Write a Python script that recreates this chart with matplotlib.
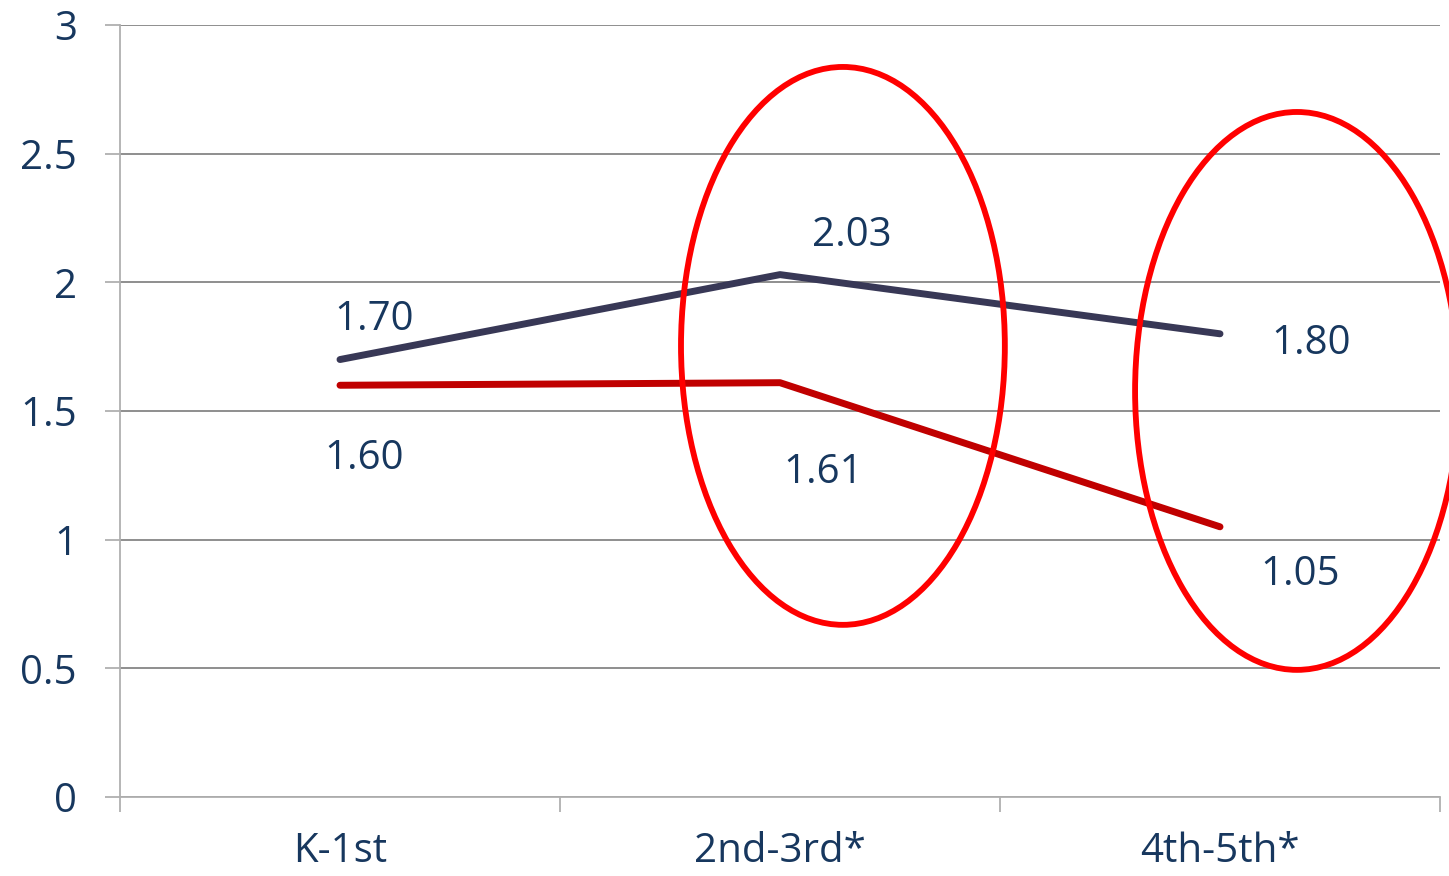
import matplotlib
matplotlib.use("Agg")
import matplotlib.pyplot as plt
from matplotlib.patches import Ellipse
from matplotlib.ticker import FixedLocator

plt.rcParams['font.family'] = ['Open Sans', 'DejaVu Sans']

categories = ["K-1st", "2nd-3rd*", "4th-5th*"]
series_top = [1.70, 2.03, 1.80]
series_bottom = [1.60, 1.61, 1.05]
y_ticks = [0, 0.5, 1, 1.5, 2, 2.5, 3]
y_tick_labels = ["0", "0.5", "1", "1.5", "2", "2.5", "3"]

text_color = "#17375E"
navy = "#383856"
dark_red = "#C00000"
ring_red = "#FF0000"
fs = 29

fig = plt.figure(figsize=(14.49, 8.76), dpi=100)
ax = fig.add_axes([120 / 1449, 79 / 876, 1320 / 1449, 772 / 876])

x = list(range(len(categories)))
ax.plot(x, series_top, color=navy, lw=5, solid_capstyle="round", solid_joinstyle="round", zorder=3)
ax.plot(x, series_bottom, color=dark_red, lw=5, solid_capstyle="round", solid_joinstyle="round", zorder=3)

ax.set_xlim(-0.5, len(categories) - 0.5)
ax.set_ylim(0, 3)

# value labels
top_offsets = [(34, 40), (72, 39), (91, -10)]
bottom_offsets = [(24, -73), (43, -90), (80, -48)]
for i, (v, off) in enumerate(zip(series_top, top_offsets)):
    ax.annotate(f"{v:.2f}", (i, v), xytext=off, textcoords="offset pixels",
                ha="center", va="center", fontsize=fs, color=text_color, zorder=4)
for i, (v, off) in enumerate(zip(series_bottom, bottom_offsets)):
    ax.annotate(f"{v:.2f}", (i, v), xytext=off, textcoords="offset pixels",
                ha="center", va="center", fontsize=fs, color=text_color, zorder=4)

# highlight rings around the two later grade bands
for cx, cy in [(1.143, 1.753), (2.175, 1.578)]:
    ax.add_patch(Ellipse((cx, cy), 0.736, 2.168, fill=False, edgecolor=ring_red,
                         lw=4.2, clip_on=False, zorder=5))

# y axis
ax.set_yticks(y_ticks)
ax.set_yticklabels(y_tick_labels)
ax.yaxis.grid(True, color="#868686", lw=1.3)
ax.set_axisbelow(True)
ax.tick_params(axis="y", length=11, width=1.3, color="#B0B0B0", pad=20,
               labelsize=fs, labelcolor=text_color)

# x axis: boundary ticks, labels centered on categories
ax.xaxis.set_major_locator(FixedLocator([-0.5, 0.5, 1.5, 2.5]))
ax.xaxis.set_minor_locator(FixedLocator(x))
ax.set_xticklabels([], minor=False)
ax.set_xticklabels(categories, minor=True)
ax.tick_params(axis="x", which="major", length=11, width=1.3, color="#B0B0B0")
ax.tick_params(axis="x", which="minor", length=0, pad=25, labelsize=fs, labelcolor=text_color)

for side in ["top", "right"]:
    ax.spines[side].set_visible(False)
for side in ["left", "bottom"]:
    ax.spines[side].set_color("#B0B0B0")
    ax.spines[side].set_linewidth(1.3)

fig.savefig("out.png", dpi=100, facecolor="white")
